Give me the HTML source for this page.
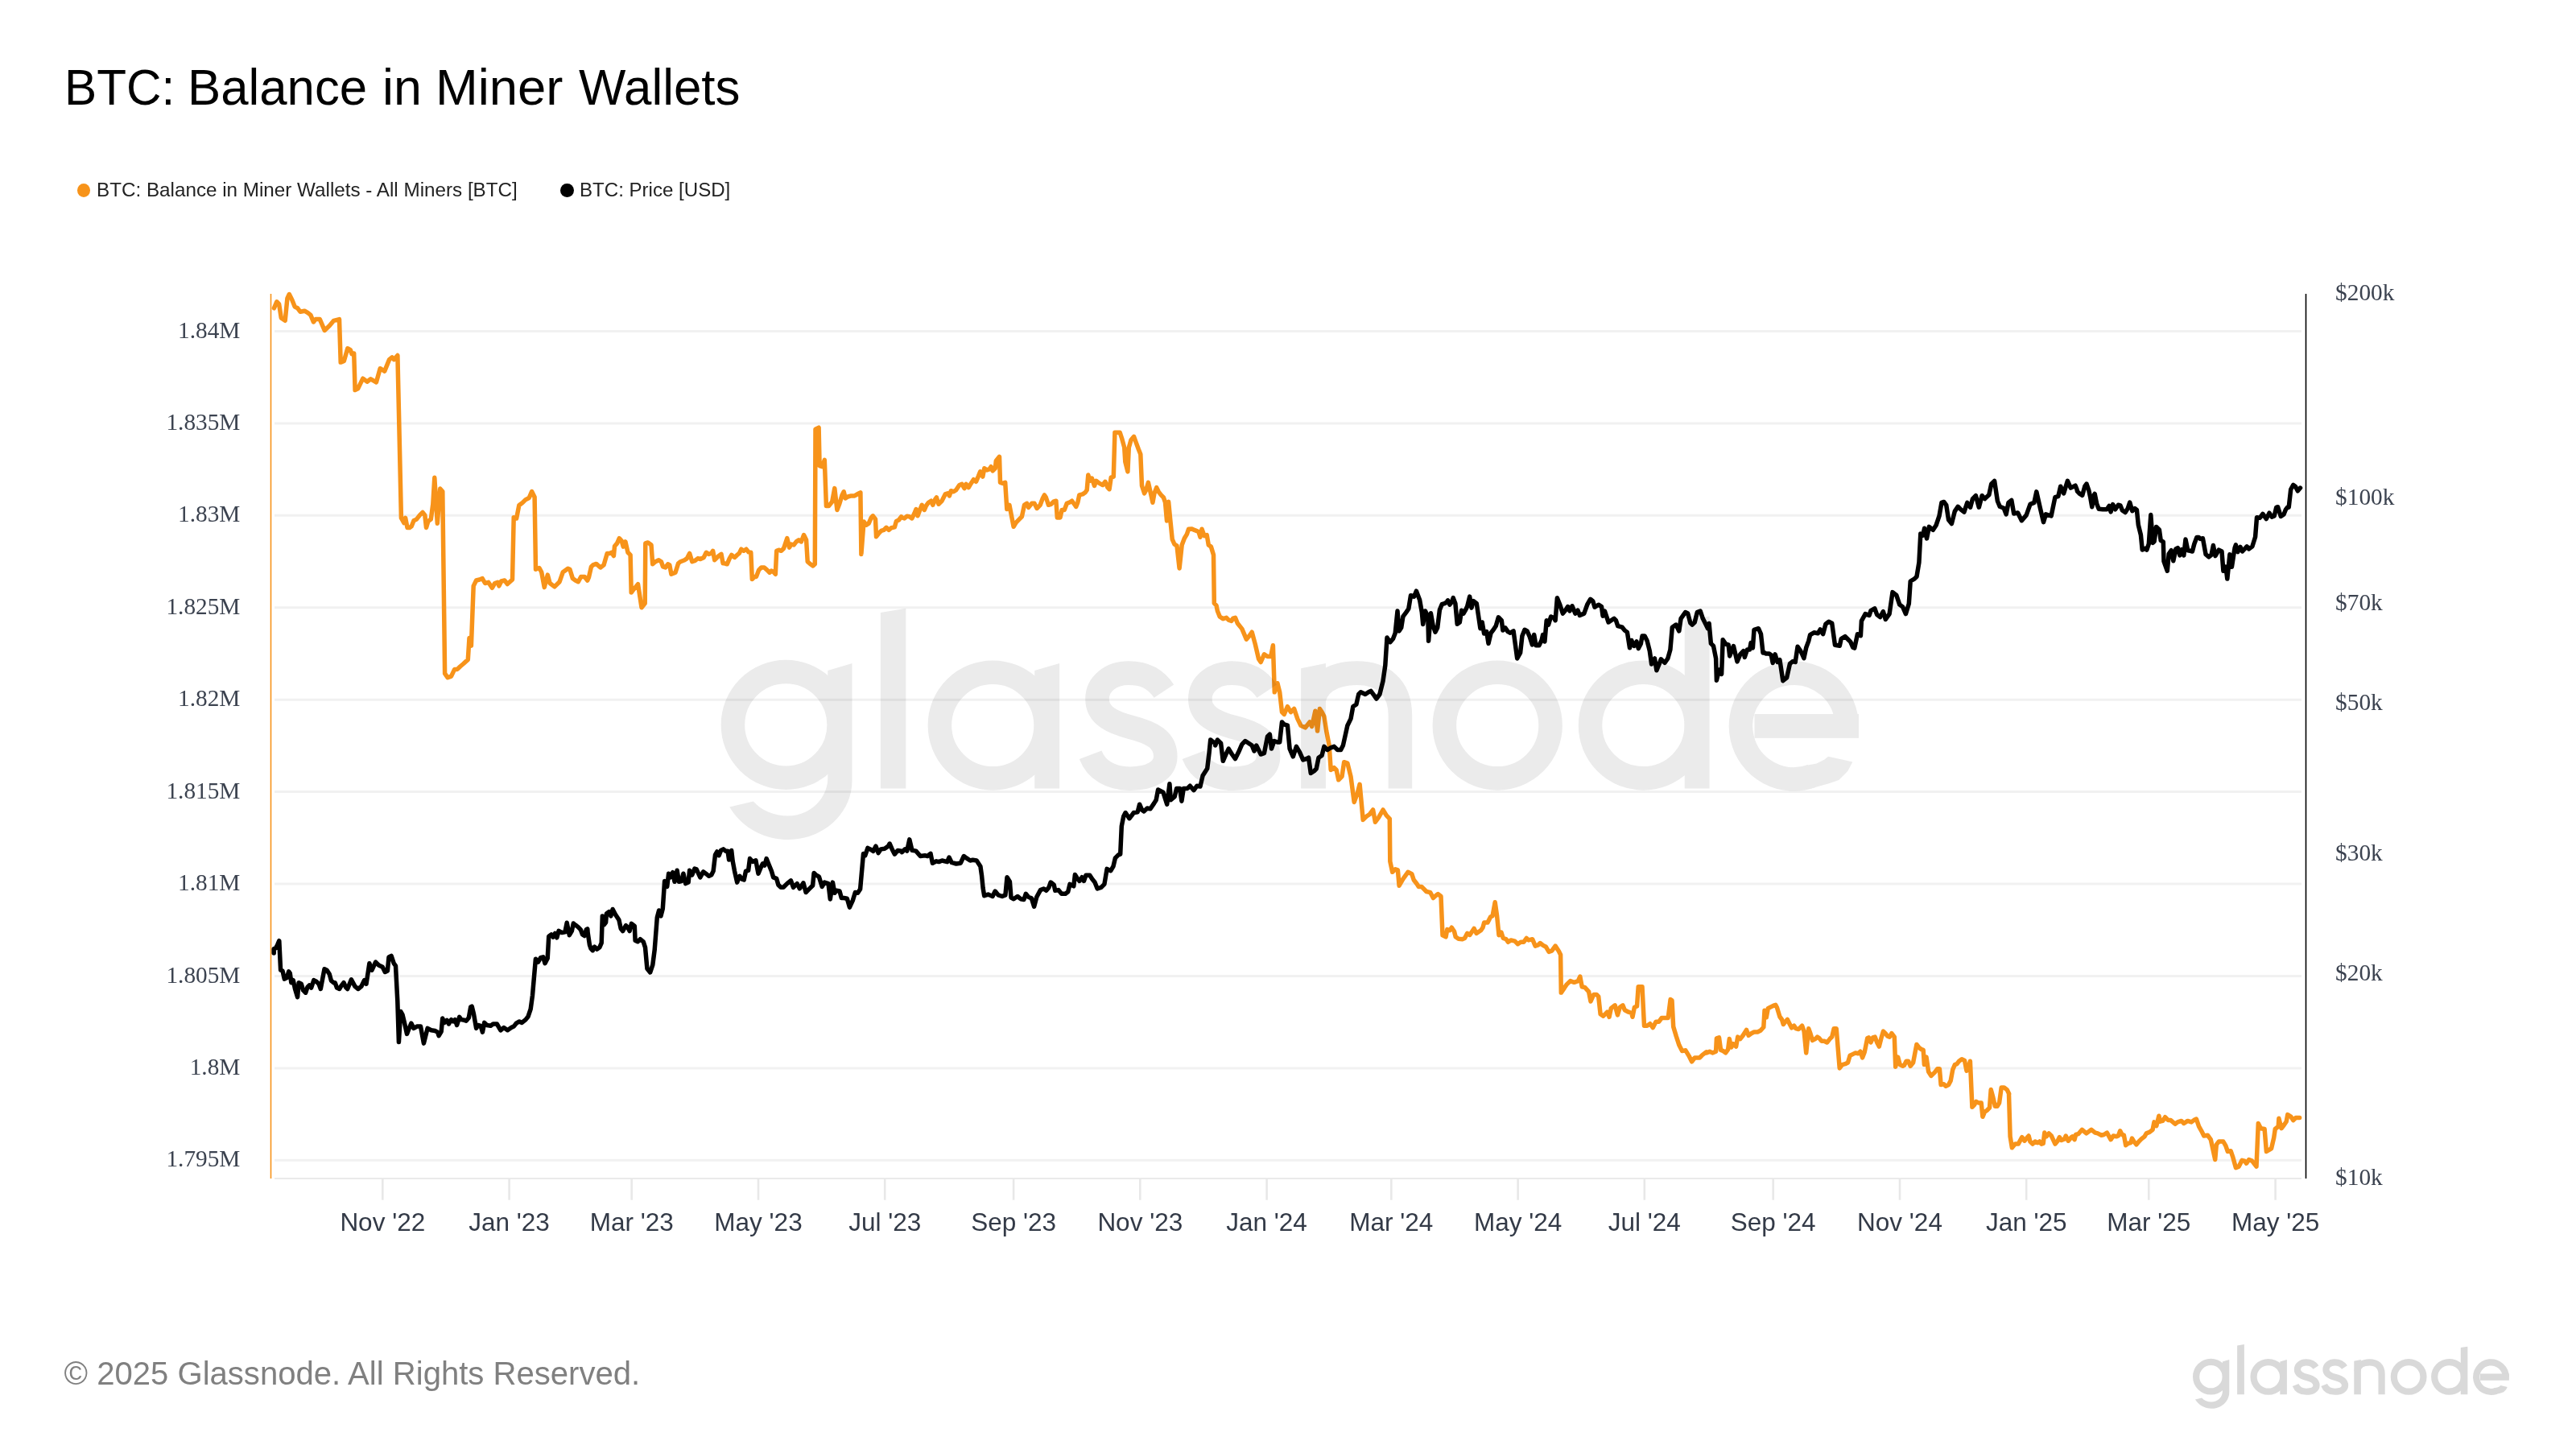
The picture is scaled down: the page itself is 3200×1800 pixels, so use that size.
<!DOCTYPE html>
<html><head><meta charset="utf-8"><style>
html,body{margin:0;padding:0;background:#fff;width:3200px;height:1800px;overflow:hidden;}
.t{position:absolute;font-family:"Liberation Sans",sans-serif;white-space:nowrap;}
svg{position:absolute;left:0;top:0;}
.xl{font-family:"Liberation Sans",sans-serif;font-size:31.5px;fill:#333a47;}
.yl{font-family:"Liberation Serif",serif;font-size:29.3px;fill:#3c4350;}
</style></head><body>
<svg width="3200" height="1800" viewBox="0 0 3200 1800">
<line x1="341" y1="411.5" x2="2859" y2="411.5" stroke="#f1f1f1" stroke-width="3"/>
<line x1="341" y1="525.9" x2="2859" y2="525.9" stroke="#f1f1f1" stroke-width="3"/>
<line x1="341" y1="640.3" x2="2859" y2="640.3" stroke="#f1f1f1" stroke-width="3"/>
<line x1="341" y1="754.8" x2="2859" y2="754.8" stroke="#f1f1f1" stroke-width="3"/>
<line x1="341" y1="869.2" x2="2859" y2="869.2" stroke="#f1f1f1" stroke-width="3"/>
<line x1="341" y1="983.6" x2="2859" y2="983.6" stroke="#f1f1f1" stroke-width="3"/>
<line x1="341" y1="1098.0" x2="2859" y2="1098.0" stroke="#f1f1f1" stroke-width="3"/>
<line x1="341" y1="1212.4" x2="2859" y2="1212.4" stroke="#f1f1f1" stroke-width="3"/>
<line x1="341" y1="1326.9" x2="2859" y2="1326.9" stroke="#f1f1f1" stroke-width="3"/>
<line x1="341" y1="1441.3" x2="2859" y2="1441.3" stroke="#f1f1f1" stroke-width="3"/>
<line x1="341" y1="1464" x2="2859" y2="1464" stroke="#e3e3e3" stroke-width="1.6"/>
<line x1="475.3" y1="1464" x2="475.3" y2="1490.7" stroke="#e8e8e8" stroke-width="2.6"/>
<text x="475.3" y="1528.8" text-anchor="middle" class="xl">Nov '22</text>
<line x1="632.6" y1="1464" x2="632.6" y2="1490.7" stroke="#e8e8e8" stroke-width="2.6"/>
<text x="632.6" y="1528.8" text-anchor="middle" class="xl">Jan '23</text>
<line x1="784.7" y1="1464" x2="784.7" y2="1490.7" stroke="#e8e8e8" stroke-width="2.6"/>
<text x="784.7" y="1528.8" text-anchor="middle" class="xl">Mar '23</text>
<line x1="942.0" y1="1464" x2="942.0" y2="1490.7" stroke="#e8e8e8" stroke-width="2.6"/>
<text x="942.0" y="1528.8" text-anchor="middle" class="xl">May '23</text>
<line x1="1099.2" y1="1464" x2="1099.2" y2="1490.7" stroke="#e8e8e8" stroke-width="2.6"/>
<text x="1099.2" y="1528.8" text-anchor="middle" class="xl">Jul '23</text>
<line x1="1259.1" y1="1464" x2="1259.1" y2="1490.7" stroke="#e8e8e8" stroke-width="2.6"/>
<text x="1259.1" y="1528.8" text-anchor="middle" class="xl">Sep '23</text>
<line x1="1416.3" y1="1464" x2="1416.3" y2="1490.7" stroke="#e8e8e8" stroke-width="2.6"/>
<text x="1416.3" y="1528.8" text-anchor="middle" class="xl">Nov '23</text>
<line x1="1573.6" y1="1464" x2="1573.6" y2="1490.7" stroke="#e8e8e8" stroke-width="2.6"/>
<text x="1573.6" y="1528.8" text-anchor="middle" class="xl">Jan '24</text>
<line x1="1728.3" y1="1464" x2="1728.3" y2="1490.7" stroke="#e8e8e8" stroke-width="2.6"/>
<text x="1728.3" y="1528.8" text-anchor="middle" class="xl">Mar '24</text>
<line x1="1885.6" y1="1464" x2="1885.6" y2="1490.7" stroke="#e8e8e8" stroke-width="2.6"/>
<text x="1885.6" y="1528.8" text-anchor="middle" class="xl">May '24</text>
<line x1="2042.8" y1="1464" x2="2042.8" y2="1490.7" stroke="#e8e8e8" stroke-width="2.6"/>
<text x="2042.8" y="1528.8" text-anchor="middle" class="xl">Jul '24</text>
<line x1="2202.7" y1="1464" x2="2202.7" y2="1490.7" stroke="#e8e8e8" stroke-width="2.6"/>
<text x="2202.7" y="1528.8" text-anchor="middle" class="xl">Sep '24</text>
<line x1="2360.0" y1="1464" x2="2360.0" y2="1490.7" stroke="#e8e8e8" stroke-width="2.6"/>
<text x="2360.0" y="1528.8" text-anchor="middle" class="xl">Nov '24</text>
<line x1="2517.2" y1="1464" x2="2517.2" y2="1490.7" stroke="#e8e8e8" stroke-width="2.6"/>
<text x="2517.2" y="1528.8" text-anchor="middle" class="xl">Jan '25</text>
<line x1="2669.3" y1="1464" x2="2669.3" y2="1490.7" stroke="#e8e8e8" stroke-width="2.6"/>
<text x="2669.3" y="1528.8" text-anchor="middle" class="xl">Mar '25</text>
<line x1="2826.6" y1="1464" x2="2826.6" y2="1490.7" stroke="#e8e8e8" stroke-width="2.6"/>
<text x="2826.6" y="1528.8" text-anchor="middle" class="xl">May '25</text>
<text x="298.4" y="419.6" text-anchor="end" class="yl">1.84M</text>
<text x="298.4" y="534.0" text-anchor="end" class="yl">1.835M</text>
<text x="298.4" y="648.4" text-anchor="end" class="yl">1.83M</text>
<text x="298.4" y="762.8" text-anchor="end" class="yl">1.825M</text>
<text x="298.4" y="877.2" text-anchor="end" class="yl">1.82M</text>
<text x="298.4" y="991.6" text-anchor="end" class="yl">1.815M</text>
<text x="298.4" y="1106.1" text-anchor="end" class="yl">1.81M</text>
<text x="298.4" y="1220.5" text-anchor="end" class="yl">1.805M</text>
<text x="298.4" y="1334.9" text-anchor="end" class="yl">1.8M</text>
<text x="298.4" y="1449.3" text-anchor="end" class="yl">1.795M</text>
<text x="2901.1" y="373.2" class="yl">$200k</text>
<text x="2901.1" y="627.4" class="yl">$100k</text>
<text x="2901.1" y="758.1" class="yl">$70k</text>
<text x="2901.1" y="881.5" class="yl">$50k</text>
<text x="2901.1" y="1068.8" class="yl">$30k</text>
<text x="2901.1" y="1217.5" class="yl">$20k</text>
<text x="2901.1" y="1471.7" class="yl">$10k</text>
<line x1="336.5" y1="365" x2="336.5" y2="1464" stroke="#f7931a" stroke-width="1.6"/>
<line x1="2864.5" y1="365" x2="2864.5" y2="1464" stroke="#000" stroke-width="1.6"/>
<path d="M340.4 382.8 L343.8 374.8 L346.6 377.6 L349.3 394.9 L354.2 398.3 L356.9 370.7 L359.3 365.5 L362.8 372.4 L366.2 381.1 L369.7 382.8 L373.1 387.3 L378.3 386.2 L382.5 388.7 L385.9 391.4 L389.4 400.0 L392.1 396.6 L397.3 396.6 L403.2 410.4 L409.4 404.5 L414.6 398.3 L421.5 396.6 L423.2 450.1 L427.3 448.4 L431.8 432.8 L435.3 434.6 L437.0 439.7 L439.7 439.0 L441.1 484.6 L444.6 482.9 L450.8 470.1 L456.0 474.2 L460.5 470.8 L467.4 474.9 L472.2 457.7 L477.7 461.1 L483.6 446.6 L487.0 443.9 L489.4 446.6 L493.9 441.5 L498.4 643.4 L501.9 649.6 L503.6 643.4 L506.0 655.4 L508.8 655.4 L511.2 653.7 L514.0 646.8 L517.4 645.1 L521.5 639.9 L525.0 636.5 L527.8 639.9 L529.5 655.4 L531.9 647.5 L535.3 645.1 L537.8 626.1 L539.8 593.3 L543.3 650.3 L546.7 607.1 L549.8 610.6 L552.6 836.6 L556.1 841.8 L560.5 840.1 L564.7 831.4 L568.1 831.4 L571.6 828.0 L575.7 824.5 L581.3 819.4 L583.0 792.5 L585.4 802.1 L588.2 727.9 L591.6 721.0 L595.7 720.0 L599.2 718.6 L602.6 724.5 L606.8 723.4 L611.3 730.3 L614.7 724.5 L618.2 723.4 L619.9 727.9 L622.7 722.0 L626.8 721.0 L630.3 725.5 L636.5 720.0 L638.2 642.7 L641.6 644.0 L644.8 627.8 L649.2 624.4 L652.7 620.9 L657.2 618.5 L660.6 610.6 L664.1 617.5 L665.5 707.2 L669.9 705.5 L672.7 710.7 L676.2 729.6 L680.3 714.1 L683.1 724.5 L688.9 728.9 L695.1 722.7 L699.3 710.7 L705.5 706.2 L707.9 707.2 L711.4 718.6 L714.8 721.0 L718.3 722.7 L721.7 716.5 L726.2 716.5 L729.7 721.0 L731.4 717.4 L734.5 703.9 L736.6 701.9 L740.7 700.4 L745.9 705.0 L750.0 701.9 L754.2 687.4 L757.3 687.4 L759.8 686.3 L762.4 690.5 L763.5 678.5 L766.6 674.9 L769.3 668.7 L772.2 671.8 L774.2 679.1 L776.9 672.9 L780.0 686.3 L783.1 689.4 L784.2 736.0 L787.3 731.9 L792.5 725.7 L797.0 754.7 L801.2 749.5 L801.8 674.9 L804.9 673.9 L809.0 677.0 L810.7 700.8 L814.2 697.7 L818.3 695.7 L821.4 697.7 L823.5 703.9 L826.6 705.0 L829.7 700.8 L831.8 701.9 L833.9 713.3 L839.0 711.2 L842.6 699.8 L845.3 697.7 L850.4 695.7 L853.5 693.6 L856.6 687.4 L859.8 697.7 L862.9 696.7 L867.0 693.6 L870.1 694.6 L872.2 693.6 L874.2 692.5 L877.3 686.3 L880.5 688.4 L883.6 687.4 L885.6 684.3 L887.7 695.7 L890.8 692.5 L892.9 690.5 L896.0 688.4 L898.1 699.8 L900.1 699.8 L903.2 700.8 L906.3 693.6 L908.8 689.4 L912.5 692.5 L915.7 689.4 L918.3 687.4 L920.8 682.2 L923.9 684.3 L927.0 682.2 L930.1 685.9 L932.8 686.3 L934.3 719.5 L937.4 716.4 L939.5 716.4 L942.6 708.1 L945.7 705.0 L949.4 705.0 L952.9 708.1 L956.0 711.2 L958.1 709.1 L960.6 710.1 L963.3 713.3 L964.7 684.3 L967.4 683.2 L970.5 684.3 L973.6 681.2 L977.8 668.7 L980.5 680.1 L982.9 676.0 L986.0 677.0 L989.2 672.9 L992.3 670.8 L995.4 672.9 L998.5 664.6 L1001.6 670.8 L1003.2 697.7 L1006.7 700.8 L1009.9 702.9 L1012.3 700.8 L1013.0 533.1 L1017.1 531.1 L1018.1 578.7 L1021.2 579.7 L1024.3 571.4 L1026.4 628.4 L1029.5 628.4 L1033.7 623.2 L1036.8 606.6 L1039.9 633.5 L1043.0 625.3 L1046.1 614.9 L1048.2 610.8 L1050.2 619.0 L1053.3 617.0 L1057.5 615.9 L1061.6 615.9 L1065.8 613.5 L1068.9 611.8 L1069.9 688.4 L1073.0 648.0 L1076.1 652.2 L1079.2 650.1 L1082.3 642.9 L1084.4 640.8 L1087.5 644.9 L1088.5 666.7 L1091.6 662.5 L1094.7 659.4 L1097.8 658.4 L1101.0 655.3 L1104.1 658.4 L1107.2 655.7 L1111.3 654.9 L1113.4 647.4 L1116.5 646.0 L1119.6 641.8 L1120.4 642.9 L1123.5 643.9 L1126.6 641.2 L1129.7 641.8 L1132.8 643.9 L1135.9 637.7 L1138.0 632.5 L1140.0 640.8 L1143.1 632.5 L1145.2 627.3 L1148.3 633.5 L1150.4 628.4 L1153.5 624.2 L1156.6 622.2 L1158.7 627.3 L1161.8 620.1 L1163.4 618.0 L1165.9 626.3 L1170.0 622.2 L1174.2 613.9 L1177.3 612.8 L1179.4 615.9 L1181.4 609.7 L1184.5 610.8 L1187.6 608.7 L1191.8 602.5 L1194.9 601.4 L1198.0 606.6 L1200.1 601.4 L1203.2 605.6 L1206.3 600.4 L1209.4 595.7 L1212.5 598.3 L1215.6 591.1 L1217.7 585.9 L1220.8 592.1 L1222.8 581.8 L1225.9 583.9 L1229.0 582.8 L1231.1 579.7 L1233.2 584.9 L1236.3 581.8 L1237.3 572.5 L1241.5 567.3 L1242.5 599.4 L1245.6 600.4 L1248.7 599.4 L1250.8 632.5 L1253.9 627.3 L1259.1 654.2 L1262.2 649.1 L1266.3 644.9 L1269.4 641.8 L1272.5 627.3 L1275.6 625.3 L1277.7 630.4 L1281.8 625.3 L1284.9 625.3 L1288.1 631.5 L1292.2 627.3 L1295.3 619.0 L1297.4 614.9 L1299.4 618.0 L1302.5 627.3 L1305.7 626.3 L1308.8 623.2 L1311.9 622.2 L1313.3 642.9 L1317.0 642.9 L1319.1 633.5 L1322.2 633.5 L1325.3 625.3 L1328.4 624.2 L1331.5 622.2 L1334.6 626.3 L1336.7 629.4 L1338.8 624.2 L1340.8 614.9 L1345.0 613.9 L1348.1 611.8 L1350.2 608.7 L1351.8 590.1 L1353.9 597.3 L1356.4 594.2 L1359.5 603.5 L1361.6 597.3 L1365.7 600.4 L1369.8 602.5 L1372.9 598.3 L1376.0 605.6 L1378.1 607.7 L1380.2 593.2 L1383.3 592.1 L1384.9 537.3 L1388.5 537.3 L1391.2 537.3 L1393.6 544.5 L1396.7 555.9 L1397.8 573.5 L1400.9 585.9 L1402.3 555.9 L1405.0 546.6 L1408.6 542.4 L1411.2 549.7 L1414.3 558.0 L1416.8 564.2 L1418.5 603.5 L1421.6 612.8 L1423.7 608.7 L1426.4 599.4 L1429.9 614.9 L1431.9 624.2 L1434.0 612.8 L1436.7 605.6 L1439.2 610.8 L1442.3 614.9 L1445.4 618.0 L1447.5 624.2 L1449.5 647.0 L1451.6 623.2 L1453.7 644.9 L1456.2 669.8 L1458.9 676.0 L1462.0 678.1 L1465.1 706.0 L1468.2 677.0 L1471.3 668.7 L1474.4 663.6 L1476.5 657.3 L1480.6 656.9 L1483.7 658.4 L1488.9 660.5 L1491.0 667.3 L1493.0 657.3 L1496.1 665.6 L1499.2 664.6 L1501.3 677.0 L1504.4 679.1 L1507.5 689.4 L1508.3 749.4 L1511.0 752.1 L1512.4 759.0 L1515.2 765.9 L1519.3 768.7 L1523.5 767.3 L1526.2 770.1 L1529.8 771.4 L1531.7 768.1 L1534.5 767.3 L1537.3 774.2 L1542.8 781.1 L1548.3 794.1 L1552.4 789.4 L1555.2 785.2 L1559.3 800.4 L1563.5 818.4 L1566.2 822.5 L1570.4 812.8 L1574.5 815.6 L1578.7 815.6 L1581.4 801.8 L1583.3 859.8 L1586.9 848.7 L1589.7 859.8 L1592.5 884.6 L1595.2 887.4 L1599.4 877.7 L1603.5 884.6 L1607.6 880.5 L1611.8 892.9 L1615.9 901.2 L1621.4 903.9 L1627.0 897.0 L1629.7 902.5 L1633.9 883.2 L1636.6 908.1 L1639.4 880.5 L1642.1 884.6 L1644.9 890.1 L1647.7 908.1 L1651.2 926.0 L1653.2 956.4 L1657.3 953.6 L1660.1 956.4 L1662.8 968.8 L1667.0 964.6 L1669.7 946.7 L1673.9 948.1 L1678.0 964.6 L1682.2 996.4 L1686.3 985.3 L1689.1 974.3 L1693.2 1018.4 L1697.3 1014.3 L1701.5 1011.5 L1705.6 1006.0 L1708.4 1021.2 L1712.5 1015.7 L1718.0 1006.0 L1722.2 1012.9 L1726.3 1017.1 L1726.8 1070.0 L1729.7 1083.3 L1733.3 1079.7 L1736.4 1080.9 L1738.1 1100.2 L1742.9 1091.8 L1749.0 1083.3 L1753.8 1085.7 L1756.2 1093.0 L1759.9 1097.8 L1762.3 1101.4 L1765.9 1101.4 L1771.9 1107.5 L1776.8 1108.7 L1780.4 1115.5 L1784.0 1112.3 L1786.4 1110.6 L1790.0 1113.5 L1792.0 1161.8 L1796.1 1163.8 L1797.8 1154.6 L1800.9 1155.8 L1803.3 1152.2 L1806.5 1157.0 L1808.2 1163.8 L1811.8 1166.2 L1816.6 1166.7 L1819.5 1165.5 L1822.7 1159.4 L1825.8 1161.4 L1831.1 1153.4 L1834.0 1159.4 L1839.6 1155.8 L1842.0 1152.2 L1843.7 1146.1 L1848.0 1146.1 L1851.6 1138.9 L1854.1 1137.7 L1857.2 1120.8 L1859.6 1137.7 L1862.0 1161.8 L1864.9 1158.2 L1867.3 1165.5 L1871.0 1166.7 L1873.4 1170.3 L1877.0 1167.9 L1881.8 1169.1 L1885.5 1172.7 L1889.1 1170.3 L1892.7 1170.3 L1896.3 1165.5 L1898.7 1167.9 L1903.6 1166.7 L1907.2 1175.1 L1910.8 1173.9 L1913.2 1171.5 L1916.9 1174.4 L1920.5 1176.3 L1924.1 1182.4 L1927.7 1181.2 L1932.1 1175.1 L1936.2 1181.2 L1938.6 1186.0 L1939.3 1233.1 L1943.4 1227.1 L1945.8 1223.4 L1950.7 1218.6 L1955.5 1220.3 L1960.3 1218.6 L1962.8 1213.0 L1965.2 1225.8 L1968.8 1226.6 L1973.6 1231.9 L1976.0 1244.0 L1979.7 1235.5 L1983.3 1235.5 L1985.7 1237.9 L1988.1 1259.7 L1991.7 1262.1 L1996.6 1257.2 L1999.0 1263.3 L2001.4 1252.4 L2006.2 1248.8 L2009.4 1260.9 L2012.3 1251.2 L2015.9 1248.8 L2018.3 1254.8 L2023.1 1257.2 L2026.8 1258.5 L2028.0 1263.3 L2030.4 1251.2 L2033.5 1250.0 L2035.2 1225.8 L2040.0 1225.8 L2042.5 1274.2 L2046.1 1274.2 L2049.7 1271.7 L2053.3 1276.6 L2057.0 1269.3 L2060.6 1269.3 L2064.2 1264.5 L2067.8 1264.5 L2072.2 1264.5 L2075.1 1241.5 L2077.0 1242.8 L2078.7 1275.4 L2082.3 1287.4 L2085.9 1298.3 L2089.6 1305.6 L2093.9 1304.8 L2098.0 1311.6 L2101.6 1318.8 L2105.3 1314.0 L2111.3 1314.0 L2114.9 1310.4 L2119.8 1306.8 L2120.4 1307.9 L2123.8 1306.2 L2127.3 1307.9 L2131.6 1306.2 L2132.4 1289.8 L2135.5 1288.9 L2137.6 1304.4 L2140.2 1305.3 L2143.6 1307.9 L2146.6 1303.6 L2148.3 1290.6 L2150.6 1301.0 L2153.1 1296.7 L2156.6 1300.1 L2158.7 1288.1 L2161.8 1290.6 L2165.2 1286.3 L2169.5 1279.4 L2172.1 1286.3 L2175.6 1283.7 L2179.0 1282.0 L2183.3 1282.0 L2186.8 1280.3 L2190.8 1276.0 L2192.0 1255.3 L2194.2 1263.9 L2196.3 1252.7 L2199.7 1250.9 L2203.2 1249.2 L2205.8 1248.4 L2207.5 1251.8 L2210.9 1263.0 L2213.5 1266.5 L2215.3 1272.5 L2217.9 1269.1 L2220.4 1266.5 L2223.0 1271.7 L2225.6 1276.8 L2228.7 1274.2 L2230.8 1277.7 L2234.2 1278.6 L2238.6 1274.2 L2241.1 1281.1 L2243.7 1307.9 L2246.7 1277.7 L2248.9 1283.7 L2251.5 1292.4 L2255.0 1290.6 L2257.5 1288.1 L2260.1 1289.8 L2262.7 1293.2 L2266.2 1293.2 L2269.6 1295.0 L2273.1 1290.6 L2275.7 1288.1 L2278.2 1277.7 L2281.2 1277.7 L2285.2 1326.9 L2288.6 1322.6 L2292.1 1321.7 L2295.5 1320.0 L2298.1 1311.3 L2301.5 1309.6 L2305.0 1307.9 L2308.4 1308.8 L2311.0 1306.2 L2313.6 1313.9 L2316.2 1307.0 L2319.7 1289.8 L2321.4 1288.9 L2324.0 1295.0 L2326.6 1288.9 L2329.2 1288.1 L2331.7 1295.0 L2334.3 1300.1 L2336.9 1289.8 L2339.5 1281.1 L2342.1 1283.7 L2344.7 1287.2 L2347.3 1288.1 L2349.9 1283.7 L2353.3 1288.1 L2354.7 1325.2 L2357.6 1313.1 L2360.2 1322.6 L2363.7 1324.3 L2365.4 1323.4 L2368.0 1318.2 L2370.6 1318.2 L2373.2 1324.3 L2376.6 1320.0 L2380.9 1297.5 L2384.4 1301.9 L2387.0 1303.6 L2389.2 1304.4 L2390.4 1322.6 L2393.0 1313.1 L2395.6 1331.2 L2399.0 1336.4 L2403.4 1332.1 L2406.8 1327.7 L2409.4 1327.7 L2411.1 1347.6 L2414.6 1346.7 L2417.2 1349.3 L2420.6 1347.6 L2423.2 1342.4 L2425.8 1328.6 L2428.4 1322.6 L2431.0 1321.7 L2433.6 1318.2 L2437.0 1315.7 L2440.5 1317.4 L2443.0 1330.3 L2444.8 1327.7 L2447.4 1318.2 L2449.9 1375.2 L2452.5 1372.6 L2454.8 1368.3 L2457.7 1370.0 L2461.2 1370.0 L2462.9 1387.3 L2465.5 1381.2 L2468.1 1379.5 L2471.5 1376.1 L2473.2 1353.6 L2475.8 1363.1 L2478.4 1374.3 L2481.0 1374.3 L2483.6 1370.0 L2486.2 1351.0 L2489.6 1351.0 L2493.1 1353.6 L2495.7 1358.8 L2495.5 1359.0 L2497.1 1411.8 L2499.4 1425.8 L2503.3 1421.1 L2507.2 1421.1 L2511.8 1412.6 L2514.9 1417.2 L2518.0 1413.4 L2520.1 1411.0 L2521.9 1418.0 L2525.0 1421.1 L2528.1 1418.0 L2531.2 1419.6 L2533.6 1418.0 L2535.9 1421.1 L2538.2 1420.3 L2539.8 1407.1 L2542.1 1411.8 L2545.2 1407.9 L2548.3 1411.0 L2553.0 1421.1 L2556.1 1417.2 L2558.4 1412.6 L2560.7 1416.5 L2564.6 1414.9 L2566.2 1411.0 L2569.3 1417.2 L2573.2 1412.6 L2574.7 1411.8 L2577.0 1415.7 L2578.6 1409.5 L2581.7 1408.7 L2586.4 1403.3 L2591.8 1407.9 L2598.0 1403.3 L2602.7 1407.1 L2605.8 1407.9 L2610.4 1410.2 L2613.5 1409.5 L2617.4 1407.1 L2622.1 1415.7 L2625.2 1411.0 L2629.1 1411.8 L2631.4 1411.0 L2633.7 1404.8 L2636.1 1409.5 L2638.4 1410.2 L2640.7 1422.7 L2643.8 1420.3 L2646.9 1419.6 L2648.5 1414.1 L2650.8 1418.0 L2653.9 1421.9 L2657.0 1418.0 L2660.1 1414.9 L2664.0 1411.8 L2666.3 1407.9 L2670.2 1406.4 L2674.1 1403.3 L2676.0 1393.9 L2678.8 1398.6 L2681.9 1386.2 L2683.4 1393.2 L2686.5 1392.4 L2689.6 1387.7 L2693.5 1391.6 L2696.6 1391.6 L2702.0 1396.3 L2705.2 1393.9 L2709.8 1392.4 L2712.9 1395.5 L2717.6 1392.4 L2722.2 1393.9 L2725.3 1391.6 L2728.4 1390.1 L2731.6 1399.4 L2734.7 1404.8 L2737.8 1411.0 L2742.4 1410.2 L2746.3 1415.7 L2751.7 1440.5 L2753.3 1421.9 L2756.4 1418.0 L2761.8 1418.0 L2764.9 1423.4 L2767.3 1430.4 L2771.1 1429.7 L2773.5 1436.6 L2777.4 1450.6 L2781.2 1449.1 L2785.1 1441.3 L2788.2 1442.1 L2790.6 1445.2 L2793.7 1440.5 L2797.5 1442.1 L2803.0 1449.1 L2805.3 1395.5 L2808.4 1401.7 L2813.1 1402.5 L2815.4 1430.4 L2819.3 1428.1 L2821.6 1426.6 L2824.7 1413.4 L2826.3 1402.5 L2830.2 1399.4 L2830.9 1389.3 L2834.0 1401.7 L2837.1 1397.8 L2840.2 1393.2 L2841.8 1384.6 L2845.7 1387.0 L2848.8 1391.6 L2851.9 1388.5 L2856.6 1388.5" fill="none" stroke="#f7931a" stroke-width="5.5" stroke-linejoin="round" stroke-linecap="round"/>
<path d="M340.2 1183.9 L340.2 1178.7 L342.4 1178.0 L344.8 1173.4 L346.8 1168.7 L348.6 1205.2 L351.0 1206.0 L353.3 1216.1 L356.4 1214.5 L358.7 1206.8 L360.3 1209.1 L361.8 1220.7 L364.2 1217.6 L366.5 1228.5 L369.6 1238.6 L371.1 1220.7 L374.3 1222.3 L376.6 1230.1 L379.7 1233.2 L382.0 1226.2 L384.3 1223.9 L386.7 1227.0 L389.8 1217.6 L392.9 1219.2 L396.0 1222.3 L398.3 1228.5 L403.0 1203.7 L406.1 1205.2 L409.2 1209.9 L411.5 1218.4 L414.6 1220.7 L416.2 1220.7 L418.5 1227.0 L421.6 1228.5 L423.9 1224.6 L427.0 1220.7 L429.4 1226.2 L431.7 1228.5 L436.4 1216.9 L441.0 1225.4 L444.9 1228.5 L448.8 1225.4 L452.7 1217.6 L455.0 1222.3 L458.9 1196.7 L462.0 1205.2 L466.6 1195.1 L470.5 1199.0 L475.2 1201.3 L478.3 1207.5 L481.4 1206.0 L483.0 1188.9 L486.1 1187.4 L489.2 1196.7 L491.5 1199.8 L493.8 1243.3 L495.4 1294.5 L497.7 1256.5 L500.0 1260.3 L502.4 1270.4 L505.5 1284.4 L508.6 1276.6 L510.9 1271.2 L514.0 1277.4 L517.9 1275.1 L522.5 1275.1 L526.4 1296.1 L531.1 1277.4 L535.7 1279.8 L540.4 1280.5 L543.5 1282.1 L545.1 1286.7 L548.2 1281.3 L549.7 1265.0 L552.0 1270.4 L555.2 1267.3 L557.5 1272.0 L560.6 1266.6 L562.9 1268.9 L565.2 1266.6 L567.6 1273.5 L570.7 1263.4 L573.0 1266.6 L576.9 1267.3 L579.2 1268.1 L582.3 1264.2 L584.7 1251.0 L586.2 1250.2 L588.5 1259.6 L591.6 1277.4 L594.0 1273.5 L597.1 1274.3 L599.4 1282.1 L601.7 1270.4 L604.8 1273.5 L609.5 1274.3 L612.6 1272.0 L617.3 1272.0 L621.9 1279.8 L625.8 1276.6 L630.5 1279.8 L635.1 1276.6 L638.2 1275.1 L641.3 1271.2 L645.2 1268.9 L648.3 1270.4 L653.0 1266.6 L656.1 1262.7 L659.2 1253.4 L661.5 1236.3 L665.4 1191.2 L668.5 1195.1 L671.6 1189.7 L674.7 1188.9 L677.0 1196.7 L680.2 1190.5 L681.7 1163.3 L684.8 1161.0 L687.1 1164.1 L689.5 1159.4 L691.8 1164.8 L694.1 1156.3 L698.0 1158.6 L701.9 1157.9 L704.2 1146.2 L707.3 1161.7 L710.4 1156.3 L712.3 1147.0 L715.1 1149.3 L718.2 1151.6 L721.3 1154.8 L723.6 1161.0 L726.0 1162.5 L728.3 1154.8 L729.8 1154.0 L730.1 1158.2 L732.4 1173.7 L734.0 1178.4 L736.3 1180.7 L738.6 1176.1 L741.7 1179.2 L744.8 1176.8 L747.2 1171.4 L748.3 1138.0 L750.3 1148.9 L752.6 1145.8 L753.4 1134.9 L756.5 1132.6 L758.8 1138.0 L761.1 1129.5 L764.3 1135.7 L768.9 1142.7 L771.2 1153.5 L773.6 1156.6 L777.5 1149.7 L779.8 1152.0 L782.1 1156.6 L784.4 1147.3 L788.3 1150.4 L789.1 1168.3 L792.2 1169.8 L795.3 1166.7 L799.2 1169.8 L801.5 1176.8 L803.9 1203.2 L807.7 1207.9 L810.8 1198.6 L813.2 1179.9 L816.3 1139.6 L818.6 1131.0 L820.9 1138.0 L823.3 1128.7 L825.6 1094.5 L828.7 1101.5 L830.6 1085.2 L832.6 1089.9 L835.7 1083.7 L838.0 1095.3 L841.1 1081.3 L843.4 1095.3 L846.6 1094.5 L848.9 1085.2 L851.7 1097.6 L855.1 1096.1 L856.6 1081.3 L859.8 1086.8 L862.9 1079.0 L865.2 1079.8 L869.8 1089.9 L873.7 1082.9 L876.8 1085.2 L880.7 1088.3 L883.8 1086.8 L886.1 1082.1 L888.5 1061.9 L890.8 1058.0 L893.1 1062.7 L895.5 1056.5 L898.6 1054.9 L901.7 1057.3 L904.0 1057.3 L905.6 1068.1 L908.7 1056.5 L910.2 1069.7 L912.5 1082.1 L915.7 1096.1 L918.8 1088.3 L921.9 1092.2 L924.2 1093.0 L926.5 1082.1 L929.6 1081.3 L931.5 1066.6 L935.1 1070.5 L938.9 1068.9 L942.0 1085.2 L945.2 1077.5 L947.5 1072.8 L949.8 1075.1 L952.1 1066.6 L955.2 1074.3 L958.4 1082.1 L960.7 1089.9 L964.6 1091.4 L966.9 1099.2 L970.0 1102.3 L973.1 1102.3 L977.8 1097.6 L982.4 1093.8 L985.5 1102.3 L990.2 1097.6 L993.3 1103.9 L998.0 1096.9 L1001.1 1108.5 L1004.9 1104.6 L1009.6 1100.0 L1011.1 1084.4 L1013.5 1086.8 L1017.4 1089.1 L1021.2 1101.5 L1024.3 1096.1 L1029.0 1097.6 L1031.3 1117.0 L1034.4 1096.1 L1036.8 1109.3 L1039.1 1106.2 L1043.0 1107.0 L1045.3 1115.5 L1048.4 1115.5 L1052.3 1116.3 L1055.4 1127.1 L1059.3 1118.6 L1062.4 1108.5 L1065.5 1109.3 L1068.6 1104.6 L1072.5 1060.4 L1074.8 1062.7 L1077.9 1053.4 L1081.0 1054.9 L1084.9 1057.3 L1088.0 1051.1 L1091.1 1059.6 L1094.2 1054.9 L1098.9 1054.2 L1103.5 1051.1 L1105.1 1048.0 L1108.2 1054.9 L1111.3 1061.1 L1115.2 1056.5 L1119.8 1057.3 L1120.3 1058.7 L1124.3 1054.8 L1126.7 1057.1 L1129.8 1042.9 L1133.0 1056.3 L1137.8 1057.1 L1143.3 1063.5 L1148.9 1062.7 L1152.1 1063.5 L1156.0 1060.3 L1158.4 1072.2 L1163.2 1069.8 L1166.3 1070.6 L1170.3 1069.0 L1176.7 1070.6 L1179.0 1065.1 L1182.2 1071.4 L1187.8 1073.0 L1193.3 1072.2 L1197.3 1063.5 L1200.5 1065.9 L1205.2 1069.0 L1208.4 1068.3 L1213.2 1069.0 L1217.9 1076.2 L1219.5 1087.3 L1221.1 1103.2 L1222.7 1112.7 L1227.5 1111.1 L1233.0 1113.5 L1236.2 1107.1 L1240.2 1111.9 L1244.9 1113.5 L1248.9 1111.9 L1251.0 1089.7 L1254.4 1095.2 L1256.0 1115.1 L1259.2 1116.7 L1264.0 1113.5 L1267.9 1116.7 L1271.9 1117.5 L1274.3 1110.3 L1277.5 1114.3 L1281.4 1115.9 L1284.6 1126.2 L1287.8 1114.3 L1292.5 1105.6 L1296.5 1104.0 L1299.7 1106.3 L1302.9 1102.4 L1305.2 1096.0 L1309.2 1099.2 L1310.8 1106.3 L1314.8 1105.6 L1318.7 1110.3 L1323.5 1110.3 L1326.7 1107.9 L1329.0 1098.4 L1333.8 1100.8 L1335.4 1086.5 L1337.8 1090.5 L1341.0 1094.4 L1344.1 1089.7 L1346.5 1094.4 L1348.9 1087.3 L1353.7 1087.3 L1356.8 1092.1 L1360.0 1096.0 L1363.2 1104.0 L1367.9 1102.4 L1371.9 1098.4 L1375.1 1079.4 L1379.8 1081.7 L1383.0 1076.2 L1385.4 1065.9 L1389.4 1061.9 L1391.7 1061.1 L1393.3 1026.2 L1395.7 1014.3 L1398.1 1009.5 L1402.9 1016.7 L1406.0 1012.7 L1408.4 1009.5 L1413.2 1008.7 L1415.6 999.2 L1418.7 1006.3 L1421.1 1007.9 L1425.1 1004.0 L1429.0 1004.8 L1433.8 997.6 L1436.2 993.7 L1438.6 981.0 L1444.9 984.1 L1449.7 999.2 L1452.9 973.8 L1454.4 993.7 L1459.2 989.7 L1461.6 979.4 L1465.6 979.4 L1467.9 995.2 L1470.3 979.4 L1475.1 979.4 L1478.3 976.2 L1483.0 981.7 L1487.0 976.2 L1491.0 977.0 L1494.1 963.5 L1499.7 954.8 L1502.1 934.9 L1503.7 919.0 L1507.6 922.2 L1510.0 923.0 L1509.7 926.0 L1512.4 919.1 L1516.6 923.2 L1519.3 945.3 L1523.5 935.7 L1526.2 930.1 L1530.4 937.0 L1534.5 942.6 L1538.6 934.3 L1542.8 924.6 L1546.9 920.5 L1551.1 923.2 L1555.2 926.0 L1558.0 932.9 L1560.7 926.0 L1566.2 937.0 L1570.4 935.7 L1574.5 915.0 L1577.3 912.2 L1579.5 930.1 L1582.8 920.5 L1586.9 921.9 L1589.7 921.9 L1592.5 897.0 L1595.2 899.8 L1599.4 901.2 L1602.1 930.1 L1606.3 939.8 L1610.4 927.4 L1614.5 934.3 L1618.7 943.9 L1622.8 942.6 L1625.6 941.2 L1628.3 960.5 L1632.5 957.7 L1635.2 955.0 L1638.0 941.2 L1642.1 938.4 L1644.9 927.4 L1649.0 931.5 L1653.2 928.8 L1657.3 927.4 L1661.5 931.5 L1665.6 931.5 L1668.4 926.0 L1673.9 901.2 L1678.0 892.9 L1680.8 877.7 L1684.9 874.9 L1687.7 862.5 L1690.4 859.8 L1696.0 862.5 L1700.1 859.8 L1702.9 858.4 L1707.0 863.9 L1709.8 868.0 L1713.9 862.5 L1718.0 846.0 L1720.8 826.6 L1723.0 792.1 L1726.9 797.7 L1730.5 793.5 L1733.2 786.6 L1736.0 759.0 L1737.9 783.9 L1740.7 779.7 L1742.9 765.9 L1747.0 760.4 L1749.8 756.3 L1752.5 739.7 L1756.7 741.1 L1759.4 734.2 L1763.6 745.2 L1766.3 760.4 L1767.7 775.6 L1770.5 759.0 L1773.8 765.9 L1774.6 796.3 L1777.4 761.8 L1780.1 777.0 L1782.9 785.2 L1785.7 779.7 L1788.4 757.6 L1791.2 750.7 L1795.3 749.4 L1798.1 746.6 L1798.5 745.8 L1800.9 751.2 L1803.2 748.1 L1805.2 742.7 L1807.9 749.7 L1810.2 775.3 L1813.3 773.0 L1815.6 758.2 L1818.0 762.1 L1820.3 758.2 L1822.6 753.6 L1825.7 741.1 L1828.0 755.1 L1830.4 746.6 L1834.3 749.7 L1836.6 765.2 L1838.9 780.7 L1841.2 773.0 L1843.6 787.0 L1846.7 784.6 L1849.0 799.4 L1852.1 786.2 L1855.2 782.3 L1858.3 777.6 L1861.4 766.8 L1865.3 770.7 L1866.9 783.1 L1870.0 780.0 L1873.1 784.6 L1876.2 786.2 L1880.1 783.9 L1882.4 800.9 L1884.7 818.0 L1888.6 811.0 L1890.9 790.1 L1894.0 782.3 L1897.1 783.9 L1900.2 790.8 L1903.4 800.9 L1905.7 788.5 L1908.0 801.7 L1911.9 801.7 L1915.0 795.5 L1916.6 788.5 L1918.9 797.0 L1921.2 770.7 L1923.5 776.1 L1926.6 766.0 L1930.5 767.5 L1932.1 770.7 L1934.4 742.7 L1937.5 750.5 L1941.4 762.1 L1944.5 758.2 L1947.6 753.6 L1949.9 759.0 L1953.0 752.8 L1956.9 762.1 L1960.0 758.2 L1962.4 764.4 L1967.8 762.1 L1971.7 751.2 L1975.6 744.3 L1978.7 746.6 L1981.0 754.3 L1985.7 751.2 L1989.5 753.6 L1991.1 765.2 L1993.4 759.0 L1998.1 773.0 L2005.1 768.3 L2007.4 770.7 L2009.7 777.6 L2015.2 779.2 L2018.3 783.1 L2021.4 785.4 L2024.5 804.8 L2026.8 795.5 L2029.9 802.5 L2033.0 797.0 L2035.3 805.6 L2038.4 799.4 L2040.0 790.1 L2043.1 790.1 L2046.2 796.3 L2049.3 808.7 L2051.6 825.0 L2055.5 818.0 L2057.9 832.8 L2061.7 823.4 L2063.3 818.8 L2068.0 823.4 L2071.8 818.0 L2074.9 807.1 L2077.3 779.2 L2081.9 776.1 L2085.8 783.9 L2088.1 768.3 L2093.6 760.6 L2096.7 762.1 L2099.8 773.8 L2102.1 776.1 L2105.2 773.0 L2108.3 760.6 L2112.2 759.0 L2115.3 768.3 L2119.2 776.1 L2121.5 780.7 L2123.1 774.5 L2125.4 799.4 L2128.5 802.5 L2131.6 818.0 L2132.4 845.2 L2135.5 832.0 L2138.6 837.4 L2140.2 794.7 L2144.0 800.2 L2147.1 800.9 L2148.7 814.9 L2153.4 802.5 L2158.0 821.9 L2161.9 812.6 L2165.8 808.7 L2167.3 816.5 L2170.4 807.1 L2173.5 807.1 L2175.1 798.6 L2177.4 804.8 L2179.0 782.3 L2184.4 780.7 L2187.5 787.7 L2190.0 811.0 L2190.6 810.0 L2193.5 811.9 L2197.4 811.9 L2200.3 813.8 L2202.2 823.5 L2205.1 812.9 L2208.0 822.5 L2210.9 819.6 L2214.8 845.7 L2219.6 841.8 L2223.5 824.4 L2227.3 821.5 L2230.2 822.5 L2233.1 803.2 L2237.0 809.0 L2240.9 817.7 L2243.8 804.2 L2246.7 796.4 L2248.6 788.7 L2253.4 785.8 L2258.3 786.8 L2261.2 781.9 L2264.6 787.7 L2267.9 775.2 L2271.8 772.3 L2275.7 774.2 L2279.5 801.3 L2285.3 802.2 L2287.2 793.5 L2292.1 790.6 L2295.9 794.5 L2298.8 797.4 L2301.7 804.2 L2303.7 805.1 L2307.5 787.7 L2311.4 789.7 L2312.4 771.3 L2317.2 762.6 L2322.0 764.5 L2324.0 758.7 L2328.8 755.8 L2331.7 763.6 L2335.6 766.5 L2339.4 759.7 L2342.3 769.4 L2347.1 762.6 L2351.0 735.6 L2355.8 739.4 L2359.7 751.0 L2363.6 753.9 L2367.4 762.6 L2371.3 750.0 L2373.2 722.0 L2378.1 719.1 L2381.0 716.2 L2383.9 698.8 L2385.8 663.1 L2388.7 665.0 L2390.6 656.3 L2393.5 668.9 L2396.4 654.4 L2401.3 658.3 L2405.1 652.5 L2409.0 640.9 L2411.9 624.4 L2414.8 623.5 L2417.7 627.3 L2420.6 645.7 L2424.4 650.5 L2428.3 635.1 L2432.2 629.3 L2436.0 633.1 L2439.9 636.0 L2443.8 624.4 L2447.6 630.2 L2450.5 619.6 L2454.4 615.7 L2458.3 630.2 L2462.1 615.7 L2465.6 619.6 L2470.8 614.8 L2473.7 601.3 L2477.6 597.4 L2481.4 622.5 L2484.3 629.3 L2489.2 631.2 L2492.1 638.9 L2495.0 624.4 L2498.8 621.5 L2501.7 638.0 L2506.6 637.0 L2511.4 646.7 L2517.2 639.9 L2522.0 626.4 L2526.9 624.4 L2529.8 610.9 L2534.6 632.2 L2538.5 648.6 L2541.4 638.9 L2548.1 640.9 L2552.9 617.7 L2556.8 616.7 L2559.7 604.2 L2563.6 612.9 L2568.4 597.4 L2572.3 606.1 L2578.1 603.2 L2580.0 608.0 L2580.5 610.4 L2583.6 613.5 L2586.7 615.4 L2589.8 604.2 L2592.0 601.1 L2594.8 609.2 L2596.6 617.3 L2598.8 629.7 L2600.7 616.0 L2602.2 613.5 L2604.7 626.0 L2607.2 632.2 L2612.2 632.8 L2617.1 632.8 L2620.2 628.4 L2622.1 635.9 L2624.6 626.6 L2627.7 632.8 L2631.4 627.2 L2633.9 627.8 L2636.4 634.0 L2640.1 636.5 L2643.2 631.6 L2645.7 624.1 L2648.8 634.7 L2651.9 631.6 L2654.4 633.4 L2656.3 652.0 L2659.4 664.5 L2661.2 683.1 L2665.0 681.2 L2666.8 683.1 L2669.3 675.7 L2671.8 639.6 L2674.3 674.4 L2676.1 672.5 L2678.6 654.5 L2682.4 658.3 L2684.2 671.3 L2687.3 673.2 L2688.0 697.4 L2692.3 709.2 L2694.2 688.1 L2697.3 683.7 L2699.8 696.8 L2702.9 681.9 L2705.3 680.6 L2707.8 689.9 L2710.3 682.5 L2712.8 689.9 L2715.0 670.1 L2717.8 683.7 L2720.9 684.3 L2723.4 685.0 L2725.8 675.7 L2728.9 667.6 L2731.4 667.6 L2733.3 669.4 L2736.4 668.8 L2740.1 688.7 L2743.9 691.8 L2747.0 689.3 L2749.4 677.5 L2751.9 690.6 L2756.3 683.1 L2760.0 685.0 L2761.9 709.2 L2765.0 704.2 L2766.8 719.1 L2769.9 688.7 L2772.4 704.2 L2776.1 680.6 L2777.4 676.9 L2779.9 685.6 L2783.0 679.4 L2785.5 685.0 L2791.1 678.8 L2793.5 681.9 L2797.9 678.8 L2801.6 667.0 L2803.5 642.7 L2807.2 643.4 L2810.9 638.4 L2815.3 644.6 L2819.0 637.1 L2822.1 642.1 L2825.2 640.9 L2827.7 630.3 L2829.6 629.7 L2833.3 641.5 L2837.0 639.0 L2839.5 632.8 L2841.4 630.3 L2843.2 630.3 L2845.7 608.0 L2848.8 602.4 L2851.3 604.2 L2854.4 609.8 L2857.5 606.1" fill="none" stroke="#000" stroke-width="5.5" stroke-linejoin="round" stroke-linecap="round"/>
<g style="mix-blend-mode:multiply"><g transform="translate(737.3 683.9) scale(0.6424)" fill="none" stroke="#ebebeb" stroke-width="46">
<circle cx="372" cy="337" r="102.5"/>
<circle cx="772" cy="338" r="102.5"/>
<path transform="translate(0 0)" d="M1103 272 C1085 245 1062 237 1035 237 C1000 237 974 258 974 287 C974 320 1005 333 1040 342 C1080 352 1106 366 1106 398 C1106 425 1078 441 1037 441 C1000 441 972 424 961 395"/>
<path transform="translate(199 0)" d="M1103 272 C1085 245 1062 237 1035 237 C1000 237 974 258 974 287 C974 320 1005 333 1040 342 C1080 352 1106 366 1106 398 C1106 425 1078 441 1037 441 C1000 441 972 424 961 395"/>
<path d="M1392 300 C1392 258 1430 237 1476 237 C1525 237 1560 262 1560 320 L1560 460"/>
<circle cx="1748" cy="338" r="102.5"/>
<circle cx="2030" cy="338" r="102.5"/>
<path d="M2423.5 339.5 A102.5 102.5 0 1 0 2356.06 435.82"/>
</g>
<g transform="translate(737.3 683.9) scale(0.6424)" fill="#ebebeb" stroke="none">
<path d="M453 232 L500 218 L500 445 C500 508 444.5 559 376 559 C330 559 288 537 263 496 L309 485 C325 503 349 513 376 513 C419 513 453 479 453 440 Z"/>
<polygon points="555,120 604,112 604,460 555,460"/>
<polygon points="853,232 901,218 901,460 853,460"/>
<polygon points="1368,228 1416,218 1416,460 1368,460"/>
<polygon points="2110,135 2158,127 2158,460 2110,460"/>
<rect x="2245" y="316.2" width="201.5" height="46.4"/>
<polygon points="2341.6,416.3 2365.1,411.7 2380.5,404.3 2387.3,398.3 2434.7,408.6 2425.2,426.7 2408.1,443.8 2389.1,450.4 2372,455.2 2353.5,460.7"/>
</g></g>
<g transform="translate(2680 1650) scale(0.178571)" fill="none" stroke="#d9d9d9" stroke-width="46">
<circle cx="372" cy="337" r="102.5"/>
<circle cx="772" cy="338" r="102.5"/>
<path transform="translate(0 0)" d="M1103 272 C1085 245 1062 237 1035 237 C1000 237 974 258 974 287 C974 320 1005 333 1040 342 C1080 352 1106 366 1106 398 C1106 425 1078 441 1037 441 C1000 441 972 424 961 395"/>
<path transform="translate(199 0)" d="M1103 272 C1085 245 1062 237 1035 237 C1000 237 974 258 974 287 C974 320 1005 333 1040 342 C1080 352 1106 366 1106 398 C1106 425 1078 441 1037 441 C1000 441 972 424 961 395"/>
<path d="M1392 300 C1392 258 1430 237 1476 237 C1525 237 1560 262 1560 320 L1560 460"/>
<circle cx="1748" cy="338" r="102.5"/>
<circle cx="2030" cy="338" r="102.5"/>
<path d="M2423.5 339.5 A102.5 102.5 0 1 0 2356.06 435.82"/>
</g>
<g transform="translate(2680 1650) scale(0.178571)" fill="#d9d9d9" stroke="none">
<path d="M453 232 L500 218 L500 445 C500 508 444.5 559 376 559 C330 559 288 537 263 496 L309 485 C325 503 349 513 376 513 C419 513 453 479 453 440 Z"/>
<polygon points="555,120 604,112 604,460 555,460"/>
<polygon points="853,232 901,218 901,460 853,460"/>
<polygon points="1368,228 1416,218 1416,460 1368,460"/>
<polygon points="2110,135 2158,127 2158,460 2110,460"/>
<rect x="2245" y="316.2" width="201.5" height="46.4"/>
<polygon points="2341.6,416.3 2365.1,411.7 2380.5,404.3 2387.3,398.3 2434.7,408.6 2425.2,426.7 2408.1,443.8 2389.1,450.4 2372,455.2 2353.5,460.7"/>
</g>
</svg>
<div class="t" style="left:80.06px;top:70.4px;font-size:63.5px;color:#000;line-height:76px;transform:scaleX(0.9485);transform-origin:0 0;">BTC:</div><div class="t" style="left:232.84px;top:70.4px;font-size:63.5px;color:#000;line-height:76px;transform:scaleX(0.9725);transform-origin:0 0;">Balance</div><div class="t" style="left:474.85px;top:70.4px;font-size:63.5px;color:#000;line-height:76px;transform:scaleX(0.988);transform-origin:0 0;">in</div><div class="t" style="left:541.0px;top:70.4px;font-size:63.5px;color:#000;line-height:76px;transform:scaleX(0.998);transform-origin:0 0;">Miner</div><div class="t" style="left:718.7px;top:70.4px;font-size:63.5px;color:#000;line-height:76px;transform:scaleX(0.974);transform-origin:0 0;">Wallets</div>
<div style="position:absolute;left:96px;top:227.8px;width:16.4px;height:16.8px;border-radius:50%;background:#f7931a"></div>
<div class="t" style="left:120px;top:221.4px;font-size:24.8px;color:#222;line-height:30px;transform:scaleX(0.977);transform-origin:0 0;">BTC: Balance in Miner Wallets - All Miners [BTC]</div>
<div style="position:absolute;left:696px;top:227.8px;width:16.5px;height:16.8px;border-radius:50%;background:#000"></div>
<div class="t" style="left:719.8px;top:221.4px;font-size:24.8px;color:#222;line-height:30px;transform:scaleX(0.971);transform-origin:0 0;">BTC: Price [USD]</div>
<div class="t" style="left:79.5px;top:1681.3px;font-size:40.1px;color:#808080;line-height:50px;">© 2025 Glassnode. All Rights Reserved.</div>
</body></html>
